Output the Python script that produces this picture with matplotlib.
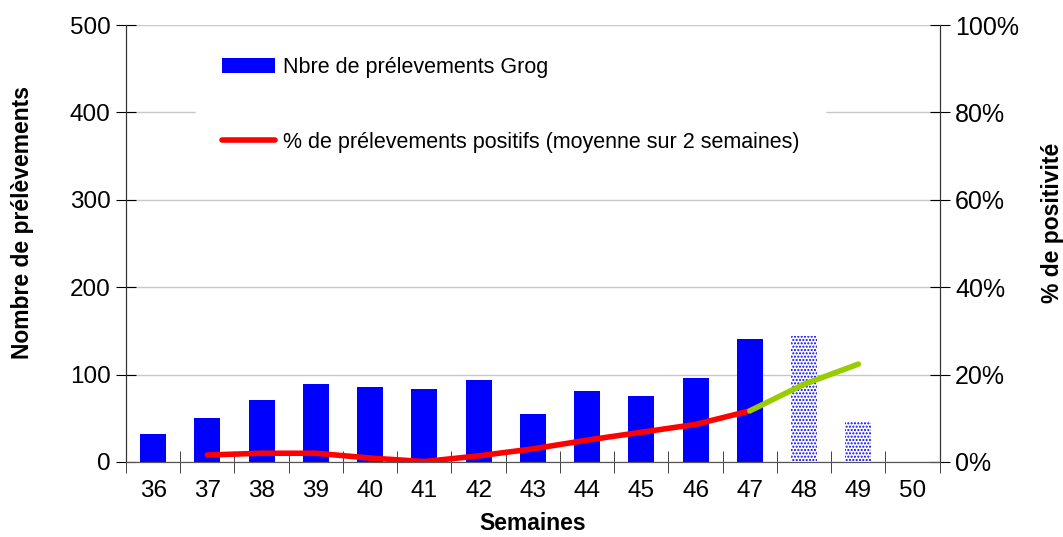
import numpy as np
import matplotlib
matplotlib.use("Agg")
import matplotlib.pyplot as plt
from matplotlib.ticker import FixedLocator, FuncFormatter

plt.rcParams['font.family'] = ['Liberation Sans', 'DejaVu Sans']
plt.rcParams['hatch.color'] = 'blue'
plt.rcParams['hatch.linewidth'] = 1.0

weeks = [36, 37, 38, 39, 40, 41, 42, 43, 44, 45, 46, 47, 48, 49, 50]
counts = [32, 50, 71, 89, 86, 83, 94, 55, 81, 75, 96, 141]  # weeks 36-47
counts_prov = [144, 46]  # weeks 48-49, provisional
pct_weeks = [37, 38, 39, 40, 41, 42, 43, 44, 45, 46, 47]
pct = [1.6, 2.0, 2.0, 0.9, 0.1, 1.4, 3.0, 5.0, 6.8, 8.6, 11.7]
pct_prov_weeks = [47, 48, 49]
pct_prov = [11.7, 17.8, 22.4]

x = np.arange(len(weeks))
fig = plt.figure(figsize=(10.63, 5.37), dpi=100)
ax = fig.add_axes([0.1185, 0.1397, 0.7655, 0.8137])
ax2 = ax.twinx()

ax.bar(x[:len(counts)], counts, width=0.48, color='blue', zorder=2,
       label='Nbre de prélevements Grog')
ax.bar(x[len(counts):len(counts) + len(counts_prov)], counts_prov, width=0.48,
       facecolor='white', edgecolor='blue', hatch='.....', linewidth=0, zorder=2)

xi = [weeks.index(w) for w in pct_weeks]
xp = [weeks.index(w) for w in pct_prov_weeks]
ax2.plot(xi, pct, color='red', lw=4, solid_capstyle='round', zorder=3,
         label='% de prélevements positifs (moyenne sur 2 semaines)')
ax2.plot(xp, pct_prov, color='#99cc00', lw=4, solid_capstyle='round', zorder=3)

ax.set_xlim(-0.5, len(weeks) - 0.5)
ax.set_ylim(0, 500)
ax2.set_ylim(0, 100)
ax.set_yticks([0, 100, 200, 300, 400, 500])
ax2.set_yticks([0, 20, 40, 60, 80, 100])
ax2.yaxis.set_major_formatter(FuncFormatter(lambda v, p: f"{v:.0f}%"))
ax.yaxis.grid(True, color='#c8c8c8', lw=1)
ax.set_axisbelow(True)

ax.set_xticks(x)
ax.set_xticklabels([str(w) for w in weeks])
ax.xaxis.set_minor_locator(FixedLocator(np.arange(-0.5, len(weeks), 1)))
ax.tick_params(axis='x', which='major', length=0, labelsize=17.5, pad=13)
ax.tick_params(axis='x', which='minor', direction='inout', length=16, color='#222222')
ax.tick_params(axis='y', direction='inout', length=14, labelsize=17.5, pad=4)
ax2.tick_params(axis='y', direction='inout', length=14, labelsize=18, pad=4)

for a in (ax, ax2):
    a.spines['top'].set_visible(False)
    a.spines['left'].set_color('#333333')
    a.spines['right'].set_color('#333333')
    a.spines['bottom'].set_color('#555555')

ax.set_xlabel('Semaines', fontsize=16.5, fontweight='bold', labelpad=7)
ax.set_ylabel('Nombre de prélèvements', fontsize=16.5, fontweight='bold')
ax2.set_ylabel('% de positivité', fontsize=16.5, fontweight='bold')
ax.yaxis.set_label_coords(-0.113, 0.547)
ax2.yaxis.set_label_coords(1.124, 0.547)

h1, l1 = ax.get_legend_handles_labels()
h2, l2 = ax2.get_legend_handles_labels()
leg = ax2.legend(h1 + h2, l1 + l2, loc='upper left', bbox_to_anchor=(0.086, 0.986),
                 frameon=True, fontsize=15.5, labelspacing=2.5, handlelength=2.45,
                 handleheight=0.65, handletextpad=0.4, borderpad=1.2, borderaxespad=0)
leg.get_frame().set_edgecolor('white')
leg.get_frame().set_facecolor('white')
leg.get_frame().set_alpha(1)
leg.get_frame().set_boxstyle('square', pad=0)

fig.savefig('out.png', dpi=100)
